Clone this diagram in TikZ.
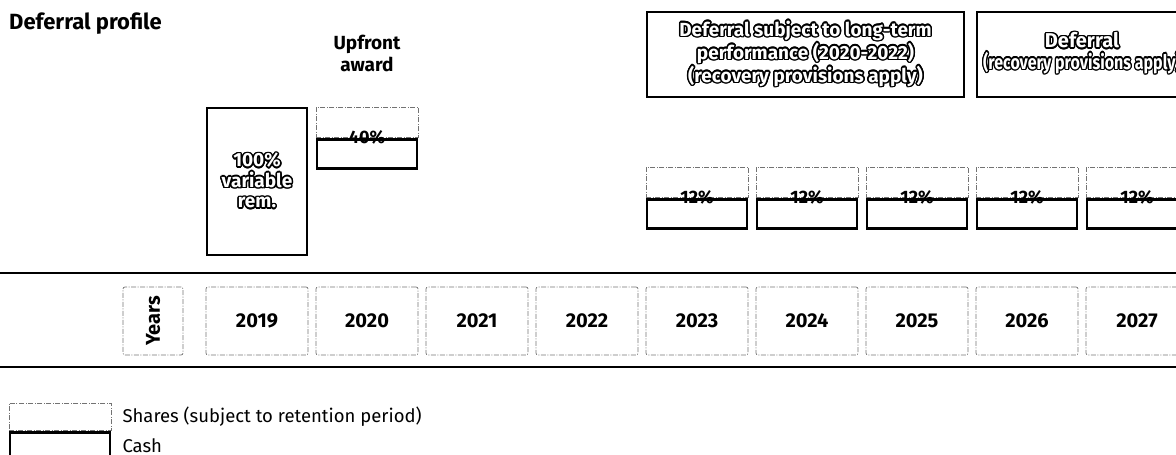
\documentclass[tikz,border=0pt]{standalone}
\usepackage{fontspec}
\setmainfont{Fira Sans}
\usepackage[copies]{contour}
\usepackage{tikz}
\usetikzlibrary{positioning}
\tikzstyle{chart} = [x = 1pt, y = -1pt]
\tikzstyle{sharesStyle} = [draw=black!55, line width=.7pt, dash pattern=on 5pt off 1.5pt on 1pt off 1.5pt, minimum width=102pt, minimum height=30pt, inner sep=0pt]
\tikzstyle{cashStyle} = [draw=black, line width=2.6pt, minimum width=100pt, minimum height=29pt, inner sep=0pt]
\tikzstyle{yearStyle} = [sharesStyle, rounded corners=2pt, minimum height=68pt, font=\fontsize{20}{22}\selectfont\bfseries]
\tikzstyle{pctText} = [inner sep=0pt, font=\fontsize{18}{20}\selectfont\bfseries]
\tikzstyle{haloText} = [align=center, inner sep=0pt, font=\fontsize{19}{20.5}\selectfont\bfseries]
\tikzstyle{plainText} = [anchor=west, inner sep=0pt, font=\fontsize{18.5}{22}\selectfont]
\tikzstyle{ruleLine} = [color=black, line width=1.4pt]
\contourlength{1.5pt}
\newcommand{\halo}[1]{\contour{black}{\textcolor{white}{#1}}}
\newcommand{\colX}[1]{257 + 110 * #1}
\newcommand{\splitAward}[4]{
  \node [sharesStyle] (#1Shares) at ({\colX{#2}}, {#3 + 15}) {};
  \node [cashStyle, below=1pt of #1Shares] (#1Cash) {};
  \node [pctText] (#1Label) at (#1Shares.south) {#4};
}

\begin{document}
\begin{tikzpicture}[chart]
\useasboundingbox (0,0) rectangle (1176,455);
\clip (0,0) rectangle (1176,455);
\node [plainText, font=\fontsize{22}{26}\selectfont\bfseries] (title) at (9,24) {Deferral profile};
\node [align=center, inner sep=0pt, font=\fontsize{19}{22}\selectfont\bfseries] (upfront) at ({\colX{1}}, 53) {Upfront\\award};
% total award and upfront part
\node [cashStyle, minimum width=100pt, minimum height=147pt, haloText] (total) at ({\colX{0}}, 181.5) {\halo{100\%}\\\halo{variable}\\\halo{rem.}};
\splitAward{upfront}{1}{107}{40\%}
% deferred parts
\foreach \k in {4,...,8} {
  \splitAward{deferral\k}{\k}{167}{12\%}
}
\node [cashStyle, minimum width=317pt, minimum height=85pt] (ltpBox) at (805.5,54.5) {};
\node [haloText] (ltpText) at (ltpBox.center) {\halo{Deferral subject to long-term}\\\halo{performance (2020-2022)}\\\halo{(recovery provisions apply)}};
\node [cashStyle, minimum width=212pt, minimum height=85pt] (deferralBox) at (1083,54.5) {};
\node [haloText, font=\fontsize{20}{21.5}\selectfont\bfseries] (deferralText) at (1082,54) {\halo{Deferral}\\\scalebox{.8}[1]{\halo{(recovery provisions apply)}}};
% years
\draw [ruleLine] (0,273) -- (1176,273);
\draw [ruleLine] (0,367) -- (1176,367);
\node [yearStyle, minimum width=60pt] (years) at (153,321) {\rotatebox{90}{Years}};
\foreach \yr [count=\k from 0] in {2019,...,2027} {
  \node [yearStyle] (year\yr) at ({\colX{\k}}, 321) {\yr};
}
% legend
\node [sharesStyle, minimum height=27pt] (legendShares) at (60,416.5) {};
\node [cashStyle, minimum height=27pt, below=1pt of legendShares] (legendCash) {};
\node [plainText, right=11pt of legendShares.east] (sharesText) {Shares (subject to retention period)};
\node [plainText, right=11pt of legendCash.east] (cashText) {Cash};
\end{tikzpicture}
\end{document}
